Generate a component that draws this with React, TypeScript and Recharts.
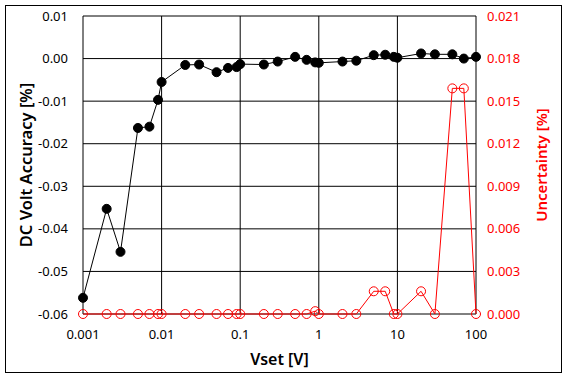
import React from 'react';
import { ComposedChart, Line, XAxis, YAxis, CartesianGrid, Label } from 'recharts';

const vset = [0.001, 0.002, 0.003, 0.005, 0.007, 0.009, 0.01, 0.02, 0.03, 0.05, 0.07, 0.09, 0.1, 0.2, 0.3, 0.5, 0.7, 0.9, 1, 2, 3, 5, 7, 9, 10, 20, 30, 50, 70, 100];
const accuracy = [-0.0562, -0.0353, -0.0454, -0.0163, -0.016, -0.0097, -0.0055, -0.0015, -0.0014, -0.0032, -0.0022, -0.002, -0.0013, -0.0014, -0.0007, 0.0004, -0.0003, -0.0009, -0.001, -0.0007, -0.0005, 0.0008, 0.0009, 0.0004, 0.0002, 0.0012, 0.001, 0.001, 0.0, 0.0004];
const uncertainty = [0, 0, 0, 0, 0, 0, 0, 0, 0, 0, 0, 0, 0, 0, 0, 0, 0, 0.0002, 0, 0, 0, 0.0016, 0.0016, 0, 0, 0.0016, 0, 0.0159, 0.0159, 0];

const xTicks = [0.001, 0.01, 0.1, 1, 10, 100];
const leftTicks = [-0.06, -0.05, -0.04, -0.03, -0.02, -0.01, 0, 0.01];
const rightTicks = [0, 0.003, 0.006, 0.009, 0.012, 0.015, 0.018, 0.021];

const data = vset.map((x, i) => ({ x, acc: accuracy[i], unc: uncertainty[i] }));

const FONT = '"Noto Sans", sans-serif';

export default function App() {
  return (
    <div style={{ position: 'absolute', left: 0, top: 0, width: 567, height: 378, background: '#fff' }}>
      <div style={{ position: 'absolute', left: 5, top: 5, width: 557, height: 368, boxSizing: 'border-box', border: '1px solid #000' }} />
      <div style={{ position: 'absolute', left: 0, top: 0 }}>
        <ComposedChart width={567} height={378} data={data} margin={{ top: 16, right: 0, bottom: 0, left: 0 }}>
          <CartesianGrid yAxisId="left" stroke="#000" strokeWidth={1} horizontal vertical />
          <XAxis
            dataKey="x"
            type="number"
            scale="log"
            domain={[0.001, 100]}
            ticks={xTicks}
            height={64}
            axisLine={false}
            tickLine={false}
            tickMargin={10}
            tick={{ fill: '#000', fontSize: 13, fontFamily: FONT }}
            tickFormatter={(v: number) => String(v)}
          >
            <Label
              content={(props: any) => {
                const vb = props.viewBox || {};
                const cx = vb.x + vb.width / 2;
                return (
                  <text x={cx} y={359} textAnchor="middle" dominantBaseline="central" fontFamily={FONT} fontSize={16} fontWeight={600} fill="#000">
                    Vset [V]
                  </text>
                );
              }}
            />
          </XAxis>
          <YAxis
            yAxisId="left"
            type="number"
            domain={[-0.06, 0.01]}
            ticks={leftTicks}
            width={83}
            axisLine={false}
            tickLine={false}
            tickMargin={9}
            tick={{ fill: '#000', fontSize: 13, fontFamily: FONT }}
            tickFormatter={(v: number) => v.toFixed(2)}
          >
            <Label
              content={(props: any) => {
                const vb = props.viewBox || {};
                const cy = vb.y + vb.height / 2;
                return (
                  <text x={25} y={cy} transform={`rotate(-90 25 ${cy})`} textAnchor="middle" dominantBaseline="central" fontFamily={FONT} fontSize={16.5} fontWeight={600} fill="#000">
                    DC Volt Accuracy [%]
                  </text>
                );
              }}
            />
          </YAxis>
          <YAxis
            yAxisId="right"
            orientation="right"
            type="number"
            domain={[0, 0.021]}
            ticks={rightTicks}
            width={91}
            axisLine={false}
            tickLine={false}
            tickMargin={5}
            tick={{ fill: '#ff0000', fontSize: 13, fontFamily: FONT }}
            tickFormatter={(v: number) => v.toFixed(3)}
          >
            <Label
              content={(props: any) => {
                const vb = props.viewBox || {};
                const cy = vb.y + vb.height / 2;
                return (
                  <text x={541} y={cy} transform={`rotate(-90 541 ${cy})`} textAnchor="middle" dominantBaseline="central" fontFamily={FONT} fontSize={15} fontWeight={600} fill="#ff0000">
                    Uncertainty [%]
                  </text>
                );
              }}
            />
          </YAxis>
          <Line
            yAxisId="left"
            dataKey="acc"
            type="linear"
            stroke="#000"
            strokeWidth={1}
            dot={{ r: 4.5, fill: '#000', stroke: '#000', strokeWidth: 1 }}
            isAnimationActive={false}
          />
          <Line
            yAxisId="right"
            dataKey="unc"
            type="linear"
            stroke="#ff0000"
            strokeWidth={1}
            dot={{ r: 4.5, fill: 'none', stroke: '#ff0000', strokeWidth: 1 }}
            isAnimationActive={false}
          />
        </ComposedChart>
      </div>
    </div>
  );
}
